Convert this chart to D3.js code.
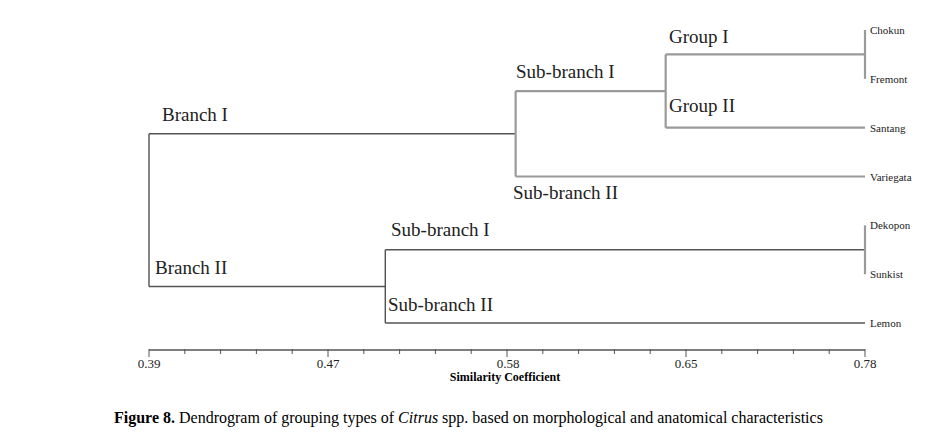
<!DOCTYPE html>
<html><head><meta charset="utf-8">
<script src="https://cdn.jsdelivr.net/npm/d3@7"></script>
<style>body{margin:0;background:#fff} svg text{font-family:'Liberation Serif','Times New Roman','DejaVu Serif',serif}</style>
</head><body><svg id="c" width="933" height="444"></svg>
<script>
const tickLabels = [0.39, 0.47, 0.58, 0.65, 0.78];
const leaves = ["Chokun","Fremont","Santang","Variegata","Dekopon","Sunkist","Lemon"];
// internal node similarity values (x of each node's vertical line)
const nodeNames = ["root","branchI","subI","chokunFremont","branchII","dekSun"];
const nodeValues = [0.39, 0.583, 0.642, 0.78, 0.505, 0.78];
const leafValue = 0.78;
const treeSpec = {name:"root",children:[
  {name:"branchI",children:[
    {name:"subI",children:[{name:"chokunFremont",children:[{name:"Chokun"},{name:"Fremont"}]},{name:"Santang"}]},
    {name:"Variegata"}]},
  {name:"branchII",children:[{name:"dekSun",children:[{name:"Dekopon"},{name:"Sunkist"}]},{name:"Lemon"}]}]};
const annotations = [
  {t:"Branch I",x:162,y:121},{t:"Sub-branch I",x:516,y:78},{t:"Group I",x:669,y:43},
  {t:"Group II",x:669,y:112},{t:"Sub-branch II",x:513,y:199},{t:"Sub-branch I",x:391,y:236},
  {t:"Branch II",x:155,y:274},{t:"Sub-branch II",x:388,y:311}];

const vx = {}; nodeNames.forEach((n,i)=>vx[n]=nodeValues[i]);

const svg = d3.select("#c");
const x = d3.scaleLinear().domain(tickLabels).range([149,328,508,686,865]);
const y = d3.scalePoint().domain(leaves).range([30,323]);
const root = d3.hierarchy(treeSpec);
root.eachAfter(n=>{ n.py = n.children ? d3.mean(n.children,c=>c.py) : y(n.data.name); });

const g = svg.append("g").attr("fill","none");
root.each(n=>{
  if(!n.children) return;
  const nx = x(vx[n.data.name]);
  const col = nx>500 ? "#9a9a9a" : "#444";
  g.append("line").attr("x1",nx).attr("x2",nx)
    .attr("y1",d3.min(n.children,c=>c.py)).attr("y2",d3.max(n.children,c=>c.py))
    .attr("stroke",col).attr("stroke-width",nx>500?2.2:1.3);
  n.children.forEach(c=>{
    const cx = c.children ? x(vx[c.data.name]) : x(leafValue);
    if(cx-nx<1) return;
    g.append("line").attr("x1",nx).attr("x2",cx).attr("y1",c.py).attr("y2",c.py)
      .attr("stroke",nx>=500?"#9a9a9a":"#555").attr("stroke-width",nx>=500?2.2:1.5);
  });
});
root.leaves().forEach(l=>{
  svg.append("text").attr("x",x(leafValue)+5).attr("y",l.py+4)
    .attr("font-size",11).attr("fill","#222").text(l.data.name);
});
annotations.forEach(a=>svg.append("text").attr("x",a.x).attr("y",a.y)
  .attr("font-size",19).attr("fill","#222").text(a.t));

// axis
const ax = svg.append("g");
ax.append("line").attr("x1",x(0.39)).attr("x2",x(0.78)).attr("y1",350).attr("y2",350).attr("stroke","#555").attr("stroke-width",1.5);
const minor = d3.range(0,21).map(i=>149+i*(865-149)/20);
minor.forEach((p,i)=>ax.append("line").attr("x1",p).attr("x2",p).attr("y1",349).attr("y2",i%5===0?357:354).attr("stroke","#555"));
tickLabels.forEach(t=>ax.append("text").attr("x",x(t)).attr("y",368).attr("text-anchor","middle")
  .attr("font-size",13).attr("fill","#222").text(t.toFixed(2)));
ax.append("text").attr("x",505).attr("y",381).attr("text-anchor","middle")
  .attr("font-weight","bold").attr("font-size",12).text("Similarity Coefficient");

const cap = svg.append("text").attr("x",114).attr("y",423).attr("font-size",16);
cap.append("tspan").attr("font-weight","bold").text("Figure 8.");
cap.append("tspan").text(" Dendrogram of grouping types of ");
cap.append("tspan").attr("font-style","italic").text("Citrus");
cap.append("tspan").text(" spp. based on morphological and anatomical characteristics");
</script></body></html>
